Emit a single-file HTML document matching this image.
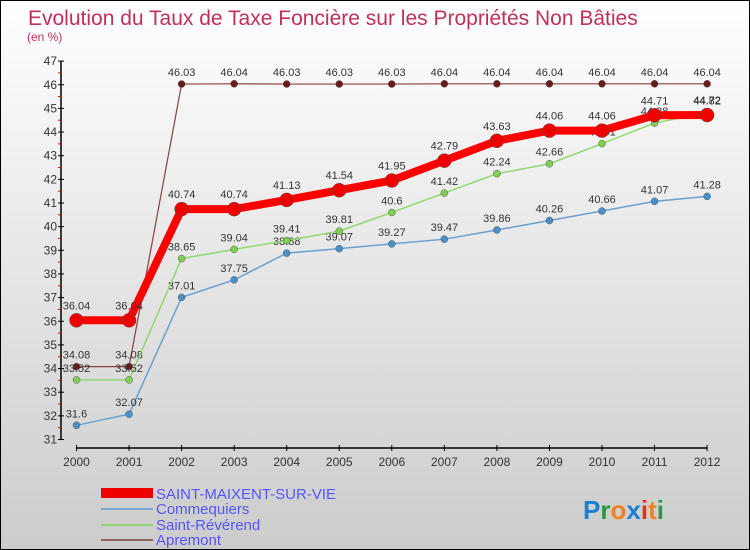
<!DOCTYPE html>
<html><head><meta charset="utf-8"><style>
body{margin:0}
#c{position:relative;width:748px;height:548px;border:1px solid #000;background:linear-gradient(#fff,#ccc);font-family:"Liberation Sans",sans-serif;overflow:hidden}
svg text{font-family:"Liberation Sans",sans-serif}
</style></head><body>
<div id="c">
<svg id="s" width="748" height="548">
<text x="27" y="24" font-size="21" fill="#c0305a">Evolution du Taux de Taxe Foncière sur les Propriétés Non Bâties</text>
<text x="26" y="40" font-size="12" fill="#c0305a">(en %)</text>
<g id="g"></g>
<rect x="100" y="487" width="52" height="10" fill="#e00"/>
<rect x="100" y="507" width="52" height="2" fill="#7aa8d0"/>
<rect x="100" y="523" width="52" height="2" fill="#90d070"/>
<rect x="100" y="538" width="52" height="2" fill="#906060"/>
<text x="155" y="498" font-size="15" fill="#55f">SAINT-MAIXENT-SUR-VIE</text>
<text x="155" y="513" font-size="15" fill="#55f">Commequiers</text>
<text x="155" y="529" font-size="15" fill="#55f">Saint-Révérend</text>
<text x="155" y="544" font-size="15" fill="#55f">Apremont</text>
<text x="582" y="518" font-size="26" font-weight="bold"><tspan fill="#1a7fd0">P</tspan><tspan fill="#2a9a40">r</tspan><tspan fill="#f08020">o</tspan><tspan fill="#1a7fd0">x</tspan><tspan fill="#e03020">i</tspan><tspan fill="#f08020">t</tspan><tspan fill="#2a9a40">i</tspan></text>
</svg>
</div>
<script>
const years=[2000,2001,2002,2003,2004,2005,2006,2007,2008,2009,2010,2011,2012];
const yTicks=[31,32,33,34,35,36,37,38,39,40,41,42,43,44,45,46,47];
const saintMaixent=[36.04,36.04,40.74,40.74,41.13,41.54,41.95,42.79,43.63,44.06,44.06,44.71,44.72];
const commequiers=[31.6,32.07,37.01,37.75,38.88,39.07,39.27,39.47,39.86,40.26,40.66,41.07,41.28];
const saintReverend=[33.52,33.52,38.65,39.04,39.41,39.81,40.6,41.42,42.24,42.66,43.51,44.38,44.82];
const apremont=[34.08,34.08,46.03,46.04,46.03,46.03,46.03,46.04,46.04,46.04,46.04,46.04,46.04];
const NS="http://www.w3.org/2000/svg";
const g=document.getElementById('g');
const X=i=>75.5+i*52.55;
const Y=v=>438.5-(v-31)*23.65;
function mk(t,a,name){const e=document.createElementNS(NS,t);for(const k in a)e.setAttribute(k,a[k]);


g.appendChild(e);return e;}
mk('line',{x1:60,y1:Y(47),x2:60,y2:Y(31),stroke:'#000','stroke-width':1.5},'y-axis');
yTicks.forEach(v=>{mk('line',{x1:57,x2:63,y1:Y(v),y2:Y(v),stroke:'#000'},'y-tick');
if(v<47)mk('line',{x1:57,x2:60,y1:Y(v+0.5),y2:Y(v+0.5),stroke:'#e00'},'y-minor-tick');
const t=mk('text',{x:56,y:Y(v)+4,'font-size':12,'text-anchor':'end',fill:'#333'},'y-tick-label');t.textContent=v;});
mk('line',{x1:X(0),y1:447,x2:X(12),y2:447,stroke:'#000','stroke-width':1.5},'x-axis');
years.forEach((y,i)=>{mk('line',{x1:X(i),x2:X(i),y1:444,y2:450,stroke:'#000'},'x-tick');
const t=mk('text',{x:X(i),y:465,'font-size':12,'text-anchor':'middle',fill:'#333'},'x-tick-label');t.textContent=y;});
function series(d,col,w,r,name,fill){
mk('polyline',{points:d.map((v,i)=>X(i)+','+Y(v)).join(' '),fill:'none',stroke:col,'stroke-width':w},name+'-line');
d.forEach((v,i)=>{mk('circle',{cx:X(i),cy:Y(v),r:r,fill:fill,stroke:'#555','stroke-width':0.5},name+'-point');
const t=mk('text',{x:X(i),y:Y(v)-8-(r>5?3:0),'font-size':11,'text-anchor':'middle',fill:'#333'},name+'-value-label');t.textContent=v;});}
series(apremont,'#8a4040',1.2,3.5,'apremont','#6a1a1a');
series(commequiers,'#6aa0d0',1.5,3.5,'commequiers','#4a90c8');
series(saintReverend,'#90d870',1.5,3.5,'saint-reverend','#80d050');
series(saintMaixent,'#f00',8,7,'saint-maixent','#e00');
</script>
</body></html>
